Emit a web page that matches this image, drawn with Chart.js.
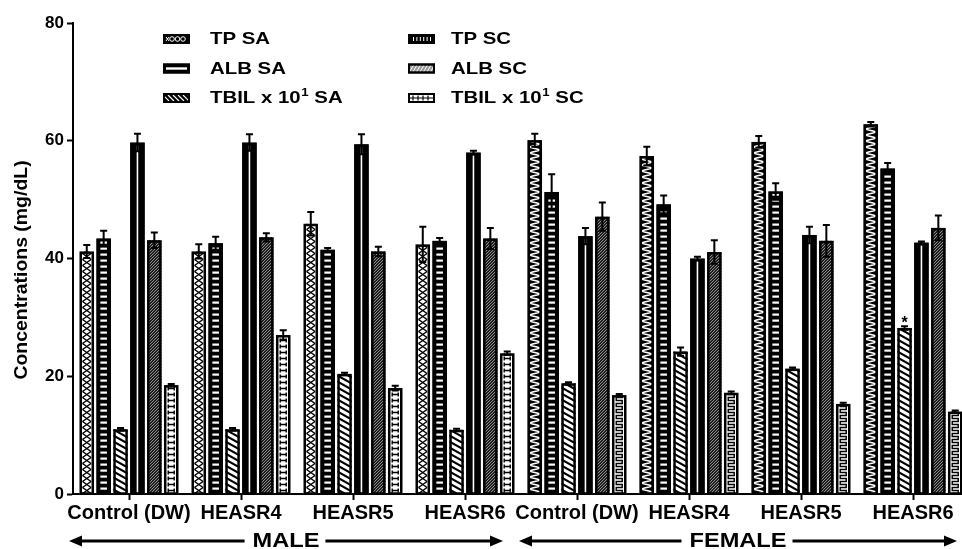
<!DOCTYPE html>
<html>
<head>
<meta charset="utf-8">
<script src="https://cdn.jsdelivr.net/npm/chart.js@4.4.1/dist/chart.umd.min.js"></script>
<style>
  html, body { margin: 0; padding: 0; background: #fff; overflow: hidden; width: 962px; height: 549px; }
  #wrap { position: relative; width: 972px; height: 549px; }
  canvas { display: block; }
</style>
</head>
<body>
<div id="wrap"><canvas id="chart" width="972" height="549"></canvas></div>
<script>
// Treatment groups along the x axis (four male, then four female)
const groups = ['Control (DW)', 'HEASR4', 'HEASR5', 'HEASR6', 'Control (DW)', 'HEASR4', 'HEASR5', 'HEASR6'];
const sexes = ['MALE', 'FEMALE'];
const groupsPerSex = 4;

// Series labels (legend order: SA column, then SC column)
const seriesLabels = ['TP SA', 'ALB SA', 'TBIL x 10¹ SA', 'TP SC', 'ALB SC', 'TBIL x 10¹ SC'];

// Mean concentrations (mg/dL)
const tpSA   = [41.2, 41.2, 45.9, 42.4, 60.1, 57.4, 59.8, 62.8];
const albSA  = [43.4, 42.6, 41.5, 43.0, 51.3, 49.2, 51.4, 55.3];
const tbilSA = [11.0, 11.0, 20.4, 10.9, 18.8, 24.2, 21.3, 28.2];
const tpSC   = [59.7, 59.7, 59.4, 58.0, 43.8, 40.0, 44.0, 42.7];
const albSC  = [43.1, 43.6, 41.2, 43.4, 47.1, 41.1, 43.0, 45.2];
const tbilSC = [18.5, 27.0, 18.0, 23.9, 16.8, 17.2, 15.3, 14.0];

// Error (SEM) for each series
const tpSAErr   = [1.1, 1.2, 2.0, 3.0, 1.1, 1.6, 1.0, 0.4];
const albSAErr  = [1.3, 1.1, 0.3, 0.5, 3.0, 1.5, 1.4, 0.9];
const tbilSAErr = [0.2, 0.2, 0.2, 0.2, 0.2, 0.7, 0.2, 0.3];
const tpSCErr   = [1.5, 1.4, 1.7, 0.3, 1.4, 0.3, 1.4, 0.2];
const albSCErr  = [1.3, 0.7, 0.8, 1.8, 2.4, 2.0, 2.7, 2.1];
const tbilSCErr = [0.2, 0.8, 0.4, 0.3, 0.2, 0.2, 0.2, 0.2];

// Y axis ticks
const yTicks = [0, 20, 40, 60, 80];

// Significance marks: [series index, group index]
const sigMarks = [[2, 7]];

const seriesValues = [tpSA, albSA, tbilSA, tpSC, albSC, tbilSC];
const seriesErrors = [tpSAErr, albSAErr, tbilSAErr, tpSCErr, albSCErr, tbilSCErr];
const textures = ['tpSA', 'albSA', 'tbilSA', 'tpSC', 'albSC', 'tbilSC'];

const FONT = '"Liberation Sans", Arial, Helvetica, sans-serif';
Chart.defaults.font.family = FONT;
Chart.defaults.color = '#000';

// ---- bar textures ----
function drawTexture(ctx, kind, female, l, t, r, b) {
  const w = r - l, cx = (l + r) / 2, hw = w / 2 - 3;
  ctx.save();
  ctx.beginPath(); ctx.rect(l, t, w, b - t); ctx.clip();
  const dark = (kind === 'albSA' || kind === 'tpSC' || (kind === 'tpSA' && female));
  ctx.fillStyle = dark ? '#000' : '#fff';
  ctx.fillRect(l, t, w, b - t);
  ctx.beginPath();
  if (kind === 'tpSA') {
    if (female) {
      ctx.strokeStyle = '#fff'; ctx.lineWidth = 1.6;
      for (let y = b; y >= t; y -= 0.5) {
        const x = cx + hw * Math.sin((b - y) / 6 * 2 * Math.PI);
        if (y === b) ctx.moveTo(x, y); else ctx.lineTo(x, y);
      }
    } else {
      ctx.strokeStyle = '#000'; ctx.lineWidth = 1.5;
      for (let y = b; y > t; y -= 6) {
        ctx.moveTo(cx - hw, y); ctx.lineTo(cx + hw, y - 6);
        ctx.moveTo(cx + hw, y); ctx.lineTo(cx - hw, y - 6);
      }
    }
    ctx.stroke();
  } else if (kind === 'albSA') {
    ctx.fillStyle = '#fff';
    for (let y = b - 5; y > t + 3; y -= 6) ctx.fillRect(cx - 3.3, y - 1, 6.6, 2.2);
  } else if (kind === 'tbilSA') {
    ctx.strokeStyle = '#000'; ctx.lineWidth = 2.1;
    for (let y = b + 10; y > t - 10; y -= 6) { ctx.moveTo(l, y - 8); ctx.lineTo(r, y); }
    ctx.stroke();
  } else if (kind === 'tpSC') {
    ctx.fillStyle = '#fff';
    ctx.fillRect(cx - 0.8, t + 3, 1.6, b - t - 3);
  } else if (kind === 'albSC') {
    ctx.fillStyle = '#aaa'; ctx.fillRect(l, t, w, b - t);
    ctx.strokeStyle = '#000'; ctx.lineWidth = 1.2;
    for (let y = b + 20; y > t - 20; y -= 3) { ctx.moveTo(l, y); ctx.lineTo(r, y - w); }
    ctx.stroke();
  } else if (kind === 'tbilSC') {
    ctx.strokeStyle = '#000'; ctx.lineWidth = 1.4;
    if (female) {
      let first = true;
      for (let y = b; y > t; y -= 6) {
        const pts = [[cx - 3, y], [cx + 3, y], [cx + 3, y - 3], [cx - 3, y - 3], [cx - 3, y - 6]];
        for (const p of pts) { if (first) { ctx.moveTo(p[0], p[1]); first = false; } else ctx.lineTo(p[0], p[1]); }
      }
    } else {
      for (let y = b; y > t + 2; y -= 6) {
        ctx.moveTo(cx - 3, y - 1); ctx.lineTo(cx - 3, y - 5);
        ctx.moveTo(cx + 3, y - 1); ctx.lineTo(cx + 3, y - 5);
        ctx.moveTo(cx - 3, y - 3); ctx.lineTo(cx + 3, y - 3);
      }
    }
    ctx.stroke();
  }
  ctx.restore();
  ctx.save();
  ctx.lineWidth = 2.5; ctx.strokeStyle = '#000';
  ctx.strokeRect(l + 1.25, t + 1.25, w - 2.5, b - t - 1.25);
  ctx.restore();
}

// Legend swatch drawing
function drawSwatch(ctx, kind, x, y, w, h) {
  ctx.save();
  ctx.fillStyle = '#000';
  ctx.fillRect(x, y, w, h);
  ctx.beginPath(); ctx.rect(x + 2, y + 2, w - 4, h - 4); ctx.clip();
  const cy = y + h / 2;
  if (kind === 'tpSA') {
    ctx.strokeStyle = '#fff'; ctx.lineWidth = 1;
    for (let i = 0; i < 3; i++) { ctx.beginPath(); ctx.arc(x + 9 + i * 5.5, cy, 2.3, 0, Math.PI * 2); ctx.stroke(); }
    ctx.beginPath(); ctx.moveTo(x + 3, cy - 2); ctx.lineTo(x + 6, cy + 2); ctx.moveTo(x + 3, cy + 2); ctx.lineTo(x + 6, cy - 2); ctx.stroke();
  } else if (kind === 'albSA') {
    ctx.fillStyle = '#fff'; ctx.fillRect(x + 3, cy - 1.2, w - 6, 2.4);
  } else if (kind === 'tbilSA') {
    ctx.strokeStyle = '#fff'; ctx.lineWidth = 1.2; ctx.beginPath();
    for (let i = -10; i < w + 10; i += 5) { ctx.moveTo(x + i, y + 2); ctx.lineTo(x + i + 6, y + h - 2); }
    ctx.stroke();
  } else if (kind === 'tpSC') {
    ctx.fillStyle = '#fff';
    for (let i = 5; i < w - 4; i += 3.4) ctx.fillRect(x + i, y + 3, 1, h - 6);
  } else if (kind === 'albSC') {
    ctx.fillStyle = '#999'; ctx.fillRect(x, y, w, h);
    ctx.strokeStyle = '#fff'; ctx.lineWidth = 1; ctx.beginPath();
    for (let i = -10; i < w + 10; i += 3.5) { ctx.moveTo(x + i, y + h); ctx.lineTo(x + i + 6, y); }
    ctx.stroke();
  } else if (kind === 'tbilSC') {
    ctx.fillStyle = '#fff'; ctx.fillRect(x, y, w, h);
    ctx.strokeStyle = '#000'; ctx.lineWidth = 1.2; ctx.beginPath();
    ctx.moveTo(x, cy); ctx.lineTo(x + w, cy);
    for (let i = 5; i < w - 2; i += 5) { ctx.moveTo(x + i, cy - 2.5); ctx.lineTo(x + i, cy + 2.5); }
    ctx.stroke();
  }
  ctx.restore();
  ctx.save(); ctx.strokeStyle = '#000'; ctx.lineWidth = 2; ctx.strokeRect(x + 1, y + 1, w - 2, h - 2); ctx.restore();
}

function stretchedText(ctx, txt, x, y, sx, align) {
  ctx.save(); ctx.translate(x, y); ctx.scale(sx, 1);
  ctx.textAlign = align; ctx.fillText(txt, 0, 0); ctx.restore();
}

// Draws a label whose '¹' is rendered as a raised smaller "1"
function labelWithSup(ctx, label, x, y, size, sx) {
  const parts = label.split('¹');
  ctx.save(); ctx.translate(x, y); ctx.scale(sx, 1);
  ctx.textAlign = 'left'; ctx.textBaseline = 'middle';
  ctx.font = 'bold ' + size + 'px ' + FONT;
  ctx.fillText(parts[0], 0, 0);
  if (parts.length > 1) {
    let cx = ctx.measureText(parts[0]).width;
    ctx.font = 'bold ' + Math.round(size * 0.62) + 'px ' + FONT;
    ctx.fillText('1', cx + 0.5, -size * 0.3);
    cx += ctx.measureText('1').width + 0.5;
    ctx.font = 'bold ' + size + 'px ' + FONT;
    ctx.fillText(parts[1], cx, 0);
  }
  ctx.restore();
}

const barPlugin = {
  id: 'texturedBars',
  afterDatasetsDraw(chart) {
    const ctx = chart.ctx, ys = chart.scales.y;
    chart.data.datasets.forEach((ds, di) => {
      const meta = chart.getDatasetMeta(di);
      meta.data.forEach((el, i) => {
        const p = el.getProps(['x', 'y', 'base', 'width'], true);
        const female = i >= groupsPerSex;
        drawTexture(ctx, textures[di], female, p.x - p.width / 2, p.y, p.x + p.width / 2, p.base);
      });
    });
    // error bars
    ctx.save();
    ctx.strokeStyle = '#000'; ctx.lineWidth = 2;
    chart.data.datasets.forEach((ds, di) => {
      const meta = chart.getDatasetMeta(di);
      meta.data.forEach((el, i) => {
        const v = seriesValues[di][i], e = seriesErrors[di][i];
        const x = el.getProps(['x'], true).x;
        const yt = ys.getPixelForValue(v + e), yb = ys.getPixelForValue(v - e);
        ctx.beginPath();
        ctx.moveTo(x, yb); ctx.lineTo(x, yt);
        ctx.moveTo(x - 3.5, yt); ctx.lineTo(x + 3.5, yt);
        ctx.moveTo(x - 3.5, yb); ctx.lineTo(x + 3.5, yb);
        ctx.stroke();
      });
    });
    ctx.restore();
    // significance marks
    ctx.save();
    ctx.font = 'bold 16px ' + FONT; ctx.textAlign = 'center'; ctx.textBaseline = 'alphabetic';
    sigMarks.forEach(([di, i]) => {
      const el = chart.getDatasetMeta(di).data[i];
      const x = el.getProps(['x'], true).x;
      ctx.fillText('*', x, ys.getPixelForValue(seriesValues[di][i] + seriesErrors[di][i]) + 1.5);
    });
    ctx.restore();
  }
};

const annotatePlugin = {
  id: 'annotations',
  afterDraw(chart) {
    const ctx = chart.ctx, xs = chart.scales.x, area = chart.chartArea;
    ctx.save();
    ctx.fillStyle = '#000';
    // legend: two columns of three
    const rowsY = [39, 68.5, 98];
    const colSwatchX = [163, 408], colTextX = [210, 451];
    seriesLabels.forEach((lab, i) => {
      const col = Math.floor(i / 3), row = i % 3;
      drawSwatch(ctx, textures[i], colSwatchX[col], rowsY[row] - 5, 27, 10);
      labelWithSup(ctx, lab, colTextX[col], rowsY[row] + 0.5, 17, 1.2);
    });
    // y axis title
    ctx.save();
    ctx.translate(22, 270); ctx.rotate(-Math.PI / 2); ctx.scale(1.08, 1);
    ctx.font = 'bold 18px ' + FONT; ctx.textAlign = 'center'; ctx.textBaseline = 'middle';
    ctx.fillText('Concentrations (mg/dL)', 0, 0);
    ctx.restore();
    // sex brackets with arrows
    const cw = (area.right - area.left) / groups.length;
    const ay = 541;
    sexes.forEach((sx, k) => {
      const left = xs.getPixelForValue(k * groupsPerSex) - cw / 2 - (k === 0 ? 4 : 2);
      const right = xs.getPixelForValue(k * groupsPerSex + groupsPerSex - 1) + cw / 2 - (k === 0 ? 18 : 12);
      const mid = (left + right) / 2;
      ctx.font = 'bold 20px ' + FONT;
      const tw = ctx.measureText(sx).width * 1.18;
      ctx.textBaseline = 'middle';
      stretchedText(ctx, sx, mid, ay, 1.18, 'center');
      ctx.strokeStyle = '#000'; ctx.lineWidth = 3;
      ctx.beginPath();
      ctx.moveTo(left + 10, ay); ctx.lineTo(mid - tw / 2 - 8, ay);
      ctx.moveTo(mid + tw / 2 + 6, ay); ctx.lineTo(right - 10, ay);
      ctx.stroke();
      ctx.beginPath();
      ctx.moveTo(left, ay); ctx.lineTo(left + 13, ay - 5.5); ctx.lineTo(left + 13, ay + 5.5); ctx.closePath();
      ctx.moveTo(right, ay); ctx.lineTo(right - 13, ay - 5.5); ctx.lineTo(right - 13, ay + 5.5); ctx.closePath();
      ctx.fill();
    });
    ctx.restore();
  }
};

new Chart(document.getElementById('chart'), {
  type: 'bar',
  data: {
    labels: groups,
    datasets: seriesLabels.map((lab, i) => ({
      label: lab,
      data: seriesValues[i],
      backgroundColor: '#fff',
      borderWidth: 0,
      categoryPercentage: 0.905,
      barPercentage: 0.86
    }))
  },
  options: {
    responsive: false,
    animation: false,
    layout: { padding: { top: 23, right: 3, left: 0, bottom: 0 } },
    plugins: { legend: { display: false }, tooltip: { enabled: false } },
    scales: {
      x: {
        z: 1,
        grid: { display: true, drawOnChartArea: false, drawTicks: true, tickLength: 6, tickWidth: 2, tickColor: '#000', offset: false },
        border: { display: true, color: '#000', width: 2 },
        ticks: { color: '#000', font: { size: 20, weight: 'bold' }, maxRotation: 0, autoSkip: false, padding: 1 },
        afterFit(s) { s.height = 55; }
      },
      y: {
        min: 0, max: 80,
        afterBuildTicks(s) { s.ticks = yTicks.map(v => ({ value: v })); },
        grid: { display: true, drawOnChartArea: false, drawTicks: true, tickLength: 6, tickWidth: 2, tickColor: '#000' },
        border: { display: true, color: '#000', width: 2 },
        ticks: { color: '#000', font: { size: 17, weight: 'bold' }, padding: 3 },
        afterFit(s) { s.width = 73; }
      }
    }
  },
  plugins: [barPlugin, annotatePlugin]
});
</script>
</body>
</html>
